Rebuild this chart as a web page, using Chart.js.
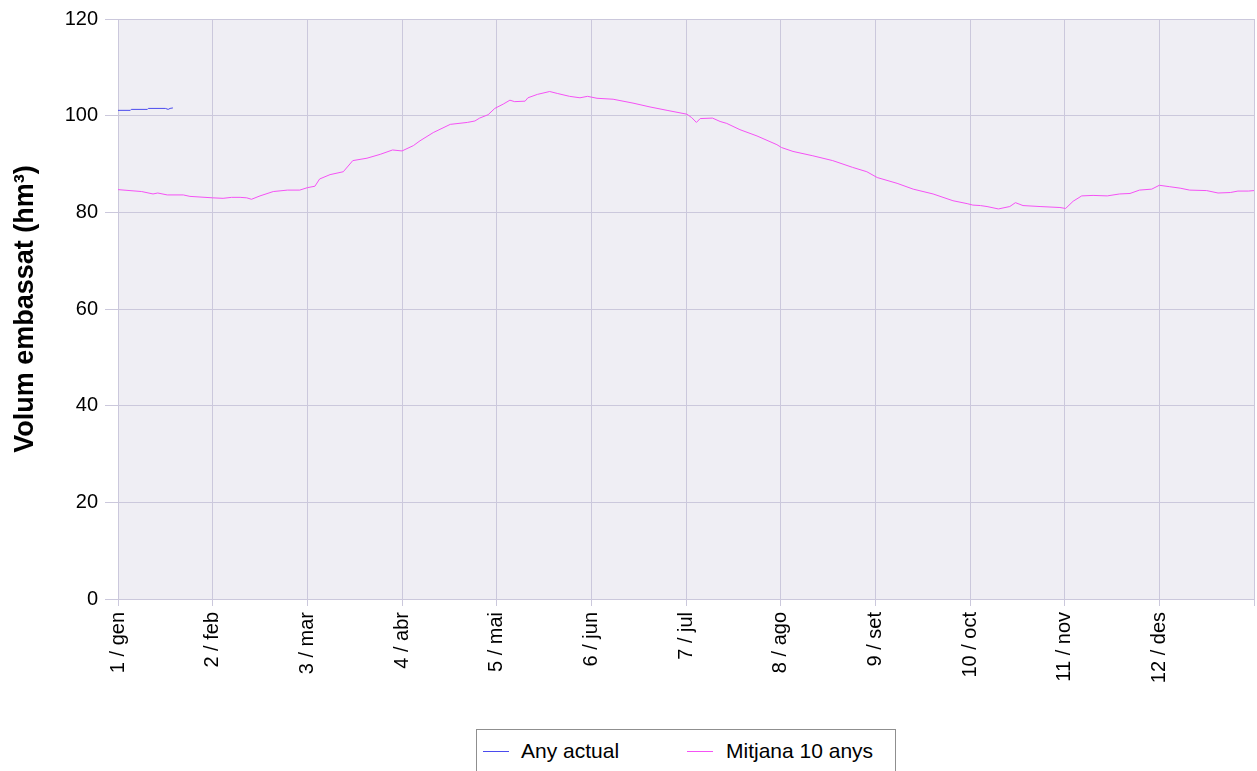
<!DOCTYPE html>
<html>
<head>
<meta charset="utf-8">
<script src="https://cdn.jsdelivr.net/npm/chart.js@4"></script>
<style>
  html,body{margin:0;padding:0;background:#fff;overflow:hidden;}
  #wrap{position:relative;width:1257px;height:771px;}
  #legend{position:absolute;left:476px;top:729px;width:420px;height:60px;box-sizing:border-box;
    border:1px solid #8f8f8f;background:#fff;font-family:"Liberation Sans",Arial,sans-serif;font-size:21px;color:#000;}
  .lin{position:absolute;top:21px;width:26px;height:1px;}
  .txt{position:absolute;top:9px;line-height:24px;white-space:nowrap;}
</style>
</head>
<body>
<div id="wrap">
  <canvas id="grafic" width="1257" height="771"></canvas>
  <div id="legend">
    <span class="lin" style="left:6px;background:#4b4bee"></span><span class="txt" style="left:44px">Any actual</span>
    <span class="lin" style="left:210px;background:#f552f5"></span><span class="txt" style="left:249px">Mitjana 10 anys</span>
  </div>
</div>
<script>
// etiquetes de l'eix x (posicio = mes, 0..12)
const mesos = ["1 / gen","2 / feb","3 / mar","4 / abr","5 / mai","6 / jun","7 / jul","8 / ago","9 / set","10 / oct","11 / nov","12 / des",""];

// any actual (hm3)
const actualX = [0, 0.13, 0.14, 0.31, 0.32, 0.50, 0.53, 0.55, 0.58];
const actualY = [101.1, 101.1, 101.3, 101.3, 101.5, 101.5, 101.3, 101.5, 101.6];

// mitjana 10 anys (hm3)
const mitjanaX = [0,0.25,0.37,0.42,0.52,0.69,0.76,1.00,1.11,1.20,1.29,1.36,1.41,1.50,1.64,1.79,1.92,2.00,2.08,2.13,
  2.24,2.38,2.48,2.63,2.77,2.90,3.00,3.12,3.19,3.33,3.51,3.69,3.77,3.82,3.91,3.98,4.07,4.14,4.19,4.30,
  4.33,4.43,4.56,4.64,4.77,4.88,4.96,5.06,5.23,5.44,5.62,5.80,6.01,6.06,6.11,6.15,6.28,6.36,6.43,6.57,
  6.75,6.96,7.01,7.13,7.34,7.55,7.76,7.91,8.02,8.23,8.40,8.61,8.82,8.97,9.03,9.11,9.18,9.30,9.42,9.48,
  9.56,9.74,9.95,10.01,10.09,10.18,10.30,10.45,10.58,10.69,10.79,10.92,11.00,11.11,11.22,11.32,11.50,11.62,11.75,11.83,
  11.94,12.00];
const mitjanaY = [84.7,84.3,83.8,84.0,83.6,83.6,83.3,83.0,82.9,83.1,83.1,83.0,82.7,83.4,84.3,84.6,84.6,85.1,85.4,86.9,
  87.8,88.4,90.7,91.2,92.0,92.9,92.7,93.8,94.8,96.5,98.2,98.6,98.9,99.5,100.2,101.5,102.4,103.2,102.9,103.0,
  103.7,104.4,105.0,104.6,104.0,103.7,104.0,103.6,103.4,102.6,101.8,101.1,100.3,99.6,98.6,99.4,99.5,98.8,98.4,97.1,
  95.8,94.0,93.4,92.6,91.7,90.7,89.3,88.4,87.2,86.0,84.8,83.8,82.4,81.8,81.5,81.4,81.2,80.7,81.2,82.0,
  81.4,81.2,81.0,80.8,82.3,83.4,83.5,83.4,83.8,83.9,84.6,84.8,85.6,85.3,85.0,84.6,84.5,84.0,84.1,84.4,
  84.4,84.5];

const font = "'Liberation Sans', Arial, sans-serif";
const graella = "#cbc8dc";

const fons = {
  id: "fons",
  beforeDraw(c){
    const a = c.chartArea, ctx = c.ctx;
    ctx.save();
    ctx.fillStyle = "#efeef4";
    ctx.fillRect(a.left, a.top, a.right - a.left, a.bottom - a.top);
    ctx.restore();
  }
};

new Chart(document.getElementById("grafic"), {
  type: "line",
  data: {
    datasets: [
      {
        label: "Mitjana 10 anys",
        data: mitjanaX.map((x,i)=>({x:x, y:mitjanaY[i]})),
        borderColor: "#f552f5",
        borderWidth: 1,
        pointRadius: 0,
        tension: 0
      },
      {
        label: "Any actual",
        data: actualX.map((x,i)=>({x:x, y:actualY[i]})),
        borderColor: "#4b4bee",
        borderWidth: 1,
        pointRadius: 0,
        tension: 0
      }
    ]
  },
  options: {
    responsive: false,
    animation: false,
    layout: {padding: {left: 0, right: 3, top: 18, bottom: 60}},
    plugins: {legend: {display: false}, tooltip: {enabled: false}},
    scales: {
      x: {
        type: "linear",
        min: 0, max: 12,
        afterFit: s => { s.height = 112; s.paddingRight = 0; s.paddingLeft = 0; },
        border: {display: false},
        grid: {color: graella, lineWidth: 1, tickLength: 7},
        ticks: {
          stepSize: 1, autoSkip: false, minRotation: 90, maxRotation: 90, padding: 6,
          color: "#000", font: {family: font, size: 20},
          callback: v => mesos[v]
        }
      },
      y: {
        min: 0, max: 120,
        afterFit: s => { s.width = 118; },
        border: {display: false},
        grid: {color: graella, lineWidth: 1, tickLength: 13},
        ticks: {stepSize: 20, padding: 7, color: "#000", font: {family: font, size: 20}},
        title: {
          display: true, text: "Volum embassat (hm³)", color: "#000",
          padding: {top: 9, bottom: 0},
          font: {family: font, size: 27, weight: "bold"}
        }
      }
    }
  },
  plugins: [fons]
});
</script>
</body>
</html>
